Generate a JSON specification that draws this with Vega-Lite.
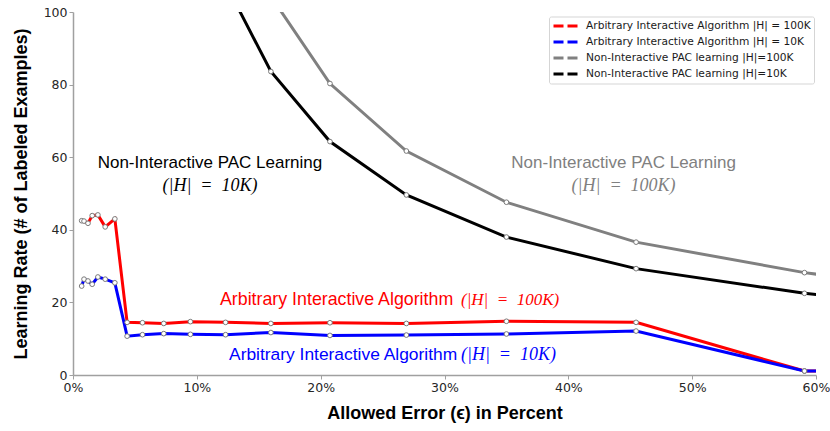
{
  "$schema": "https://vega.github.io/schema/vega-lite/v6.json",
  "width": 743,
  "height": 363,
  "autosize": {"type": "none"},
  "padding": {"left": 73, "top": 12, "right": 14, "bottom": 56},
  "background": "white",
  "config": {
    "view": {"stroke": null},
    "axis": {
      "grid": false,
      "domainColor": "#a0a0a0",
      "domainWidth": 1.5,
      "tickColor": "#a0a0a0",
      "tickSize": 4,
      "tickWidth": 1,
      "labelFont": "DejaVu Sans",
      "labelFontSize": 12.5,
      "labelColor": "#262626",
      "labelFlush": false,
      "labelPadding": 2,
      "titleFont": "Liberation Sans",
      "titleFontSize": 18,
      "titleFontWeight": "bold",
      "titleColor": "black"
    },
    "legend": {"labelFont": "DejaVu Sans"}
  },
  "datasets": {
    "curves": [
      {"series": "Arbitrary Interactive Algorithm |H| = 100K", "eps": 0.70, "rate": 42.5},
      {"series": "Arbitrary Interactive Algorithm |H| = 100K", "eps": 0.89, "rate": 42.4},
      {"series": "Arbitrary Interactive Algorithm |H| = 100K", "eps": 1.21, "rate": 41.8},
      {"series": "Arbitrary Interactive Algorithm |H| = 100K", "eps": 1.55, "rate": 43.9},
      {"series": "Arbitrary Interactive Algorithm |H| = 100K", "eps": 2.01, "rate": 44.1},
      {"series": "Arbitrary Interactive Algorithm |H| = 100K", "eps": 2.60, "rate": 40.8},
      {"series": "Arbitrary Interactive Algorithm |H| = 100K", "eps": 3.38, "rate": 43.0},
      {"series": "Arbitrary Interactive Algorithm |H| = 100K", "eps": 4.37, "rate": 14.5},
      {"series": "Arbitrary Interactive Algorithm |H| = 100K", "eps": 5.61, "rate": 14.4},
      {"series": "Arbitrary Interactive Algorithm |H| = 100K", "eps": 7.33, "rate": 14.2},
      {"series": "Arbitrary Interactive Algorithm |H| = 100K", "eps": 9.48, "rate": 14.7},
      {"series": "Arbitrary Interactive Algorithm |H| = 100K", "eps": 12.32, "rate": 14.5},
      {"series": "Arbitrary Interactive Algorithm |H| = 100K", "eps": 15.98, "rate": 14.2},
      {"series": "Arbitrary Interactive Algorithm |H| = 100K", "eps": 20.75, "rate": 14.4},
      {"series": "Arbitrary Interactive Algorithm |H| = 100K", "eps": 26.92, "rate": 14.2},
      {"series": "Arbitrary Interactive Algorithm |H| = 100K", "eps": 35.0, "rate": 14.8},
      {"series": "Arbitrary Interactive Algorithm |H| = 100K", "eps": 45.47, "rate": 14.5},
      {"series": "Arbitrary Interactive Algorithm |H| = 100K", "eps": 59.07, "rate": 1.1},
      {"series": "Arbitrary Interactive Algorithm |H| = 100K", "eps": 65.0, "rate": 1.1},
      {"series": "Arbitrary Interactive Algorithm |H| = 10K", "eps": 0.70, "rate": 24.5},
      {"series": "Arbitrary Interactive Algorithm |H| = 10K", "eps": 0.89, "rate": 26.4},
      {"series": "Arbitrary Interactive Algorithm |H| = 10K", "eps": 1.21, "rate": 25.9},
      {"series": "Arbitrary Interactive Algorithm |H| = 10K", "eps": 1.55, "rate": 25.0},
      {"series": "Arbitrary Interactive Algorithm |H| = 10K", "eps": 2.01, "rate": 27.0},
      {"series": "Arbitrary Interactive Algorithm |H| = 10K", "eps": 2.60, "rate": 26.4},
      {"series": "Arbitrary Interactive Algorithm |H| = 10K", "eps": 3.38, "rate": 25.4},
      {"series": "Arbitrary Interactive Algorithm |H| = 10K", "eps": 4.37, "rate": 10.7},
      {"series": "Arbitrary Interactive Algorithm |H| = 10K", "eps": 5.61, "rate": 11.1},
      {"series": "Arbitrary Interactive Algorithm |H| = 10K", "eps": 7.33, "rate": 11.4},
      {"series": "Arbitrary Interactive Algorithm |H| = 10K", "eps": 9.48, "rate": 11.2},
      {"series": "Arbitrary Interactive Algorithm |H| = 10K", "eps": 12.32, "rate": 11.1},
      {"series": "Arbitrary Interactive Algorithm |H| = 10K", "eps": 15.98, "rate": 11.7},
      {"series": "Arbitrary Interactive Algorithm |H| = 10K", "eps": 20.75, "rate": 10.9},
      {"series": "Arbitrary Interactive Algorithm |H| = 10K", "eps": 26.92, "rate": 11.0},
      {"series": "Arbitrary Interactive Algorithm |H| = 10K", "eps": 35.0, "rate": 11.3},
      {"series": "Arbitrary Interactive Algorithm |H| = 10K", "eps": 45.47, "rate": 12.1},
      {"series": "Arbitrary Interactive Algorithm |H| = 10K", "eps": 59.07, "rate": 1.1},
      {"series": "Arbitrary Interactive Algorithm |H| = 10K", "eps": 65.0, "rate": 1.1},
      {"series": "Non-Interactive PAC learning |H|=100K", "eps": 15.98, "rate": 104.3},
      {"series": "Non-Interactive PAC learning |H|=100K", "eps": 20.75, "rate": 80.3},
      {"series": "Non-Interactive PAC learning |H|=100K", "eps": 26.92, "rate": 61.7},
      {"series": "Non-Interactive PAC learning |H|=100K", "eps": 35.0, "rate": 47.6},
      {"series": "Non-Interactive PAC learning |H|=100K", "eps": 45.47, "rate": 36.6},
      {"series": "Non-Interactive PAC learning |H|=100K", "eps": 59.07, "rate": 28.2},
      {"series": "Non-Interactive PAC learning |H|=100K", "eps": 65.0, "rate": 25.6},
      {"series": "Non-Interactive PAC learning |H|=10K", "eps": 12.32, "rate": 107.8},
      {"series": "Non-Interactive PAC learning |H|=10K", "eps": 15.98, "rate": 83.6},
      {"series": "Non-Interactive PAC learning |H|=10K", "eps": 20.75, "rate": 64.3},
      {"series": "Non-Interactive PAC learning |H|=10K", "eps": 26.92, "rate": 49.6},
      {"series": "Non-Interactive PAC learning |H|=10K", "eps": 35.0, "rate": 38.0},
      {"series": "Non-Interactive PAC learning |H|=10K", "eps": 45.47, "rate": 29.3},
      {"series": "Non-Interactive PAC learning |H|=10K", "eps": 59.07, "rate": 22.5},
      {"series": "Non-Interactive PAC learning |H|=10K", "eps": 65.0, "rate": 20.6}
    ]
  },
  "layer": [
    {
      "data": {"name": "curves"},
      "mark": {"type": "line", "strokeWidth": 3, "clip": true},
      "encoding": {
        "x": {
          "field": "eps", "type": "quantitative",
          "scale": {"domain": [0, 60], "nice": false, "zero": false},
          "axis": {"title": "Allowed Error (ϵ) in Percent", "values": [0, 10, 20, 30, 40, 50, 60], "labelExpr": "datum.value + '%'", "titlePadding": 11}
        },
        "y": {
          "field": "rate", "type": "quantitative",
          "scale": {"domain": [0, 100], "nice": false},
          "axis": {"title": "Learning Rate (# of Labeled Examples)", "values": [0, 20, 40, 60, 80, 100], "titlePadding": 13}
        },
        "color": {
          "field": "series", "type": "nominal",
          "scale": {
            "domain": ["Arbitrary Interactive Algorithm |H| = 100K", "Arbitrary Interactive Algorithm |H| = 10K", "Non-Interactive PAC learning |H|=100K", "Non-Interactive PAC learning |H|=10K"],
            "range": ["#ff0000", "#0000ff", "#808080", "#000000"]
          },
          "legend": {
            "title": null, "orient": "none", "legendX": 476, "legendY": 4.5,
            "symbolType": "M-1,0H1M1.8,0H3.8", "symbolSize": 100, "symbolStrokeWidth": 3,
            "labelFont": "DejaVu Sans", "labelFontSize": 10.65, "labelColor": "#1a1a1a", "labelLimit": 400,
            "labelOffset": 21, "rowPadding": 3, "padding": 3,
            "strokeColor": "#d5d5d5", "fillColor": "white", "cornerRadius": 2
          }
        }
      }
    },
    {
      "data": {"name": "curves"},
      "mark": {"type": "point", "shape": "circle", "filled": true, "fill": "white", "stroke": "#7a7a7a", "strokeWidth": 1, "size": 22, "opacity": 1, "clip": true},
      "encoding": {
        "x": {"field": "eps", "type": "quantitative"},
        "y": {"field": "rate", "type": "quantitative"}
      }
    },
    {
      "data": {"values": [{"label": "Non-Interactive PAC Learning"}]},
      "mark": {"type": "text", "font": "Liberation Sans", "fontSize": 17, "color": "#000000", "align": "center", "baseline": "middle"},
      "encoding": {"x": {"datum": 11.06, "type": "quantitative"}, "y": {"datum": 58.4, "type": "quantitative"}, "text": {"field": "label"}}
    },
    {
      "data": {"values": [{"label": "(|H|\u2002=\u200210K)"}]},
      "mark": {"type": "text", "font": "Liberation Serif", "fontStyle": "italic", "fontSize": 18, "color": "#000000", "align": "center", "baseline": "middle"},
      "encoding": {"x": {"datum": 11.06, "type": "quantitative"}, "y": {"datum": 52.07, "type": "quantitative"}, "text": {"field": "label"}}
    },
    {
      "data": {"values": [{"label": "Non-Interactive PAC Learning"}]},
      "mark": {"type": "text", "font": "Liberation Sans", "fontSize": 17, "color": "#808080", "align": "center", "baseline": "middle"},
      "encoding": {"x": {"datum": 44.46, "type": "quantitative"}, "y": {"datum": 58.4, "type": "quantitative"}, "text": {"field": "label"}}
    },
    {
      "data": {"values": [{"label": "(|H|\u2002=\u2002100K)"}]},
      "mark": {"type": "text", "font": "Liberation Serif", "fontStyle": "italic", "fontSize": 18, "color": "#808080", "align": "center", "baseline": "middle"},
      "encoding": {"x": {"datum": 44.46, "type": "quantitative"}, "y": {"datum": 52.07, "type": "quantitative"}, "text": {"field": "label"}}
    },
    {
      "data": {"values": [{"label": "Arbitrary Interactive Algorithm"}]},
      "mark": {"type": "text", "font": "Liberation Sans", "fontSize": 17.8, "color": "#ff0000", "align": "left", "baseline": "middle"},
      "encoding": {"x": {"datum": 11.87, "type": "quantitative"}, "y": {"datum": 20.66, "type": "quantitative"}, "text": {"field": "label"}}
    },
    {
      "data": {"values": [{"label": "(|H|\u2002=\u2002100K)"}]},
      "mark": {"type": "text", "font": "Liberation Serif", "fontStyle": "italic", "fontSize": 17, "color": "#ff0000", "align": "left", "baseline": "middle"},
      "encoding": {"x": {"datum": 31.33, "type": "quantitative"}, "y": {"datum": 20.66, "type": "quantitative"}, "text": {"field": "label"}}
    },
    {
      "data": {"values": [{"label": "Arbitrary Interactive Algorithm"}]},
      "mark": {"type": "text", "font": "Liberation Sans", "fontSize": 17.4, "color": "#0000ff", "align": "left", "baseline": "middle"},
      "encoding": {"x": {"datum": 12.6, "type": "quantitative"}, "y": {"datum": 5.51, "type": "quantitative"}, "text": {"field": "label"}}
    },
    {
      "data": {"values": [{"label": "(|H|\u2002=\u200210K)"}]},
      "mark": {"type": "text", "font": "Liberation Serif", "fontStyle": "italic", "fontSize": 18, "color": "#0000ff", "align": "left", "baseline": "middle"},
      "encoding": {"x": {"datum": 31.33, "type": "quantitative"}, "y": {"datum": 5.51, "type": "quantitative"}, "text": {"field": "label"}}
    }
  ]
}
